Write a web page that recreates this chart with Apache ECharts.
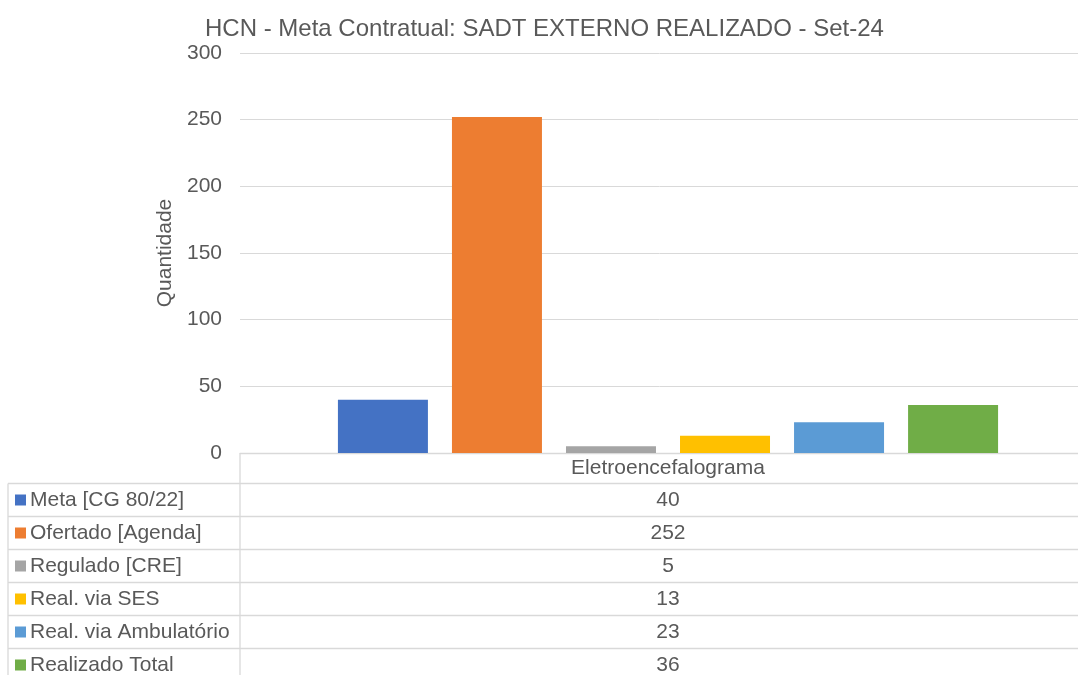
<!DOCTYPE html>
<html>
<head>
<meta charset="utf-8">
<script src="https://cdn.jsdelivr.net/npm/echarts@6/dist/echarts.min.js"></script>
<style>
  html, body { margin: 0; padding: 0; background: #fff; }
  #chart { width: 1078px; height: 675px; }
</style>
</head>
<body>
<div id="chart"></div>
<script>
// Chart data
const categories = ['Eletroencefalograma'];
const seriesNames = ['Meta [CG 80/22]', 'Ofertado [Agenda]', 'Regulado [CRE]', 'Real. via SES', 'Real. via Ambulatório', 'Realizado Total'];
const seriesValues = [40, 252, 5, 13, 23, 36];
const seriesColors = ['#4472C4', '#ED7D31', '#A5A5A5', '#FFC000', '#5B9BD5', '#70AD47'];
const yTicks = [0, 50, 100, 150, 200, 250, 300];

const FONT = '"Liberation Sans", Arial, sans-serif';
const TEXT = '#595959';
const LINE = '#d9d9d9';

// Layout of the data table under the plot
const plotLeft = 240;
const plotWidth = 856; // band runs past the right edge, like the source
const axisY = 453.5;
const rowTop = 483.5;
const rowH = 33;
const valueX = plotLeft + plotWidth / 2;

const chart = echarts.init(document.getElementById('chart'));

// Build table lines and value cells
const tableGraphics = [];
// vertical divider between legend column and values
tableGraphics.push({
  type: 'line', silent: true,
  shape: { x1: plotLeft, y1: axisY, x2: plotLeft, y2: 675 },
  style: { stroke: LINE, lineWidth: 1.3 }
});
// left border
tableGraphics.push({
  type: 'line', silent: true,
  shape: { x1: 8, y1: rowTop, x2: 8, y2: 675 },
  style: { stroke: LINE, lineWidth: 1.3 }
});
seriesNames.forEach((name, i) => {
  const y = rowTop + i * rowH;
  tableGraphics.push({
    type: 'line', silent: true,
    shape: { x1: 8, y1: y, x2: 1078, y2: y },
    style: { stroke: LINE, lineWidth: 1.3 }
  });
  tableGraphics.push({
    type: 'text', silent: true,
    x: valueX, y: y + rowH / 2,
    style: {
      text: String(seriesValues[i]),
      fill: TEXT, font: '21px ' + FONT,
      textAlign: 'center', textVerticalAlign: 'middle'
    }
  });
});

const series = seriesNames.map((name, i) => ({
  name: name,
  type: 'bar',
  barWidth: 90,
  barGap: '26.7%',
  itemStyle: { color: seriesColors[i] },
  data: [seriesValues[i]]
}));

const option = {
  animation: false,
  title: {
    text: 'HCN - Meta Contratual: SADT EXTERNO REALIZADO - Set-24',
    left: 205,
    top: 17,
    padding: 0,
    textStyle: { color: TEXT, fontFamily: FONT, fontSize: 24, fontWeight: 'normal' }
  },
  legend: {
    orient: 'vertical',
    left: 15,
    top: 489,
    height: 230,
    padding: 0,
    icon: 'rect',
    itemWidth: 11,
    itemHeight: 11,
    itemGap: 11,
    selectedMode: false,
    textStyle: { color: TEXT, fontFamily: FONT, fontSize: 21, lineHeight: 22, padding: [0, 0, 0, -1] },
    data: seriesNames
  },
  grid: { left: plotLeft, width: plotWidth, top: 53, height: 400, outerBoundsMode: 'none' },
  xAxis: {
    type: 'category',
    data: categories,
    axisTick: { show: false },
    axisLine: { lineStyle: { color: LINE, width: 1.3 } },
    axisLabel: { color: TEXT, fontFamily: FONT, fontSize: 21, margin: 5 }
  },
  yAxis: {
    type: 'value',
    min: yTicks[0],
    max: yTicks[yTicks.length - 1],
    interval: 50,
    name: 'Quantidade',
    nameLocation: 'middle',
    nameGap: 60,
    nameTextStyle: { color: TEXT, fontFamily: FONT, fontSize: 21 },
    axisLine: { show: false },
    axisTick: { show: false },
    axisLabel: { color: TEXT, fontFamily: FONT, fontSize: 21, margin: 18 },
    splitLine: { lineStyle: { color: LINE, width: 1 } }
  },
  graphic: tableGraphics,
  series: series
};

chart.setOption(option);
</script>
</body>
</html>
